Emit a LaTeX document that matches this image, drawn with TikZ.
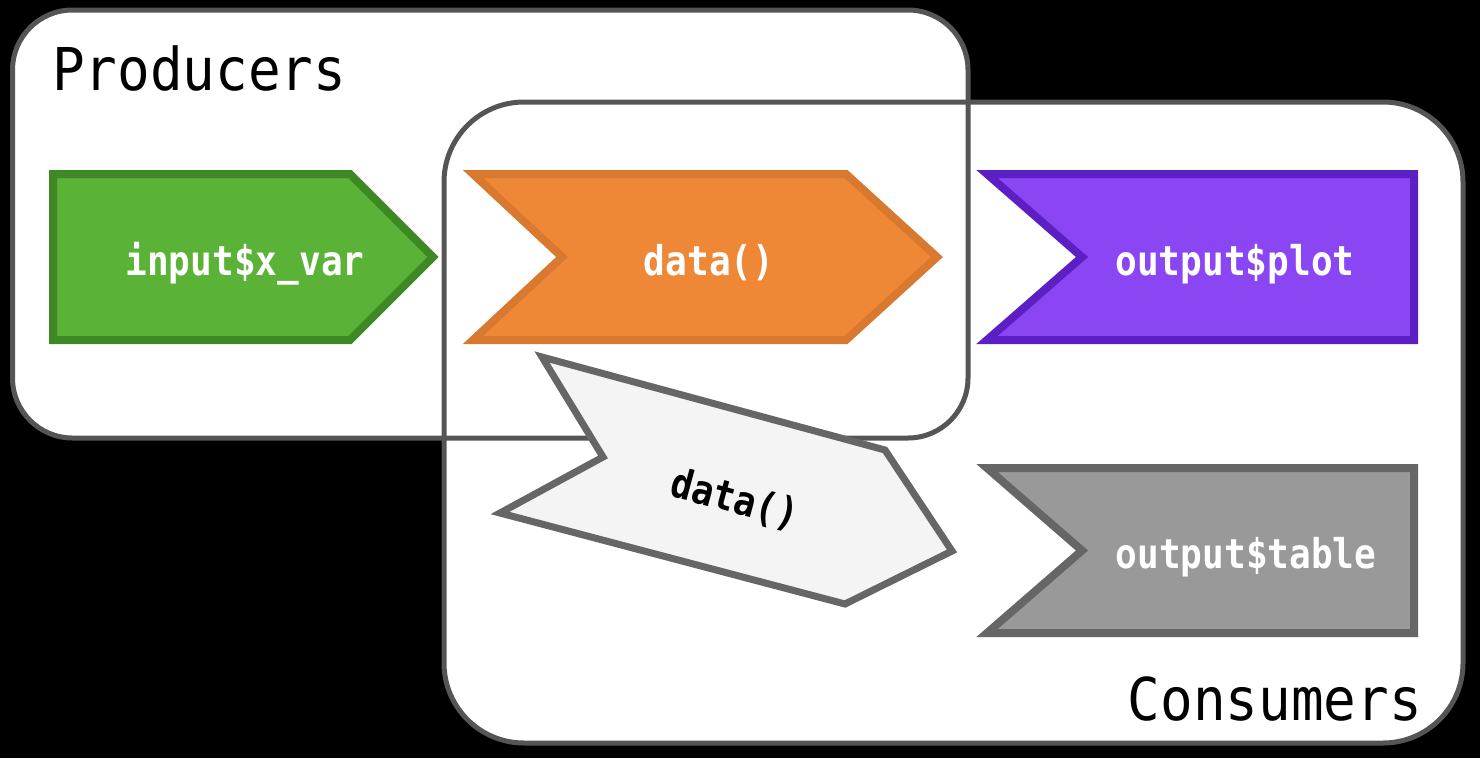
\documentclass[tikz,border=0pt]{standalone}
\usepackage{fontspec}
\setmonofont{DejaVu Sans Mono}
\newfontfamily\labelmono[FakeStretch=0.88]{DejaVu Sans Mono}
\newfontfamily\headmono[FakeStretch=0.92]{DejaVu Sans Mono}
\definecolor{boxline}{HTML}{555555}
\definecolor{greenfill}{HTML}{5AB236}
\definecolor{greenline}{HTML}{3F8826}
\definecolor{orangefill}{HTML}{EE8736}
\definecolor{orangeline}{HTML}{D9792F}
\definecolor{purplefill}{HTML}{8B46F3}
\definecolor{purpleline}{HTML}{5B1FC4}
\definecolor{greyfill}{HTML}{999999}
\definecolor{greyline}{HTML}{666666}
\definecolor{palefill}{HTML}{F4F4F4}
\begin{document}
\begin{tikzpicture}[x=1pt,y=-1pt,
  groupfill/.style={fill=white,rounded corners=#1},
  groupline/.style={draw=boxline,line width=5pt,rounded corners=#1},
  chev/.style={line width=8pt,line join=miter},
  lblfont/.style={font=\labelmono\bfseries\fontsize{41}{44}\selectfont,inner sep=0pt},
  lbl/.style={lblfont,text=white,anchor=base},
  heading/.style={font=\headmono\fontsize{59}{62}\selectfont,inner sep=0pt}]

% canvas
\fill[black] (0,0) rectangle (1480,758);
\useasboundingbox (0,0) rectangle (1480,758);

% the two overlapping groups: fills first, outlines on top of both
\fill[groupfill=60pt] (12.5,10) rectangle (968,438);
\fill[groupfill=80pt] (444,102) rectangle (1463,743);
\draw[groupline=60pt] (12.5,10) rectangle (968,438);
\draw[groupline=80pt] (444,102) rectangle (1463,743);

\node[heading,anchor=base west] (producers) at (52,90) {Producers};
\node[heading,anchor=base east] (consumers) at (1422,720) {Consumers};

% input (pointed on the right)
\filldraw[chev,fill=greenfill,draw=greenline]
  (53,174) -- (350,174) -- (433,257) -- (350,340) -- (53,340) -- cycle;
\node[lbl] (input) at (245,275) {input\$x\_var};

% reactive expression (notched and pointed)
\filldraw[chev,fill=orangefill,draw=orangeline]
  (473,174) -- (846,174) -- (937,257) -- (846,340) -- (473,340) -- (562,257) -- cycle;
\node[lbl] (data) at (709,275) {data()};

% outputs (notched on the left)
\filldraw[chev,fill=purplefill,draw=purpleline]
  (987,174) -- (1414,174) -- (1414,340) -- (987,340) -- (1082,257) -- cycle;
\node[lbl] (plot) at (1235,275) {output\$plot};

\filldraw[chev,fill=greyfill,draw=greyline]
  (987,468) -- (1414,468) -- (1414,633) -- (987,633) -- (1082,550.5) -- cycle;
\node[lbl] (table) at (1246,568) {output\$table};

% tilted copy of the reactive expression
\filldraw[line width=7pt,line join=miter,fill=palefill,draw=greyline]
  (542,357) -- (885,450) -- (952,551) -- (845,604) -- (500,513) -- (603,457) -- cycle;
\node[lblfont,text=black,rotate=-15.2] (datacopy) at (735,500) {data()};
\end{tikzpicture}
\end{document}
